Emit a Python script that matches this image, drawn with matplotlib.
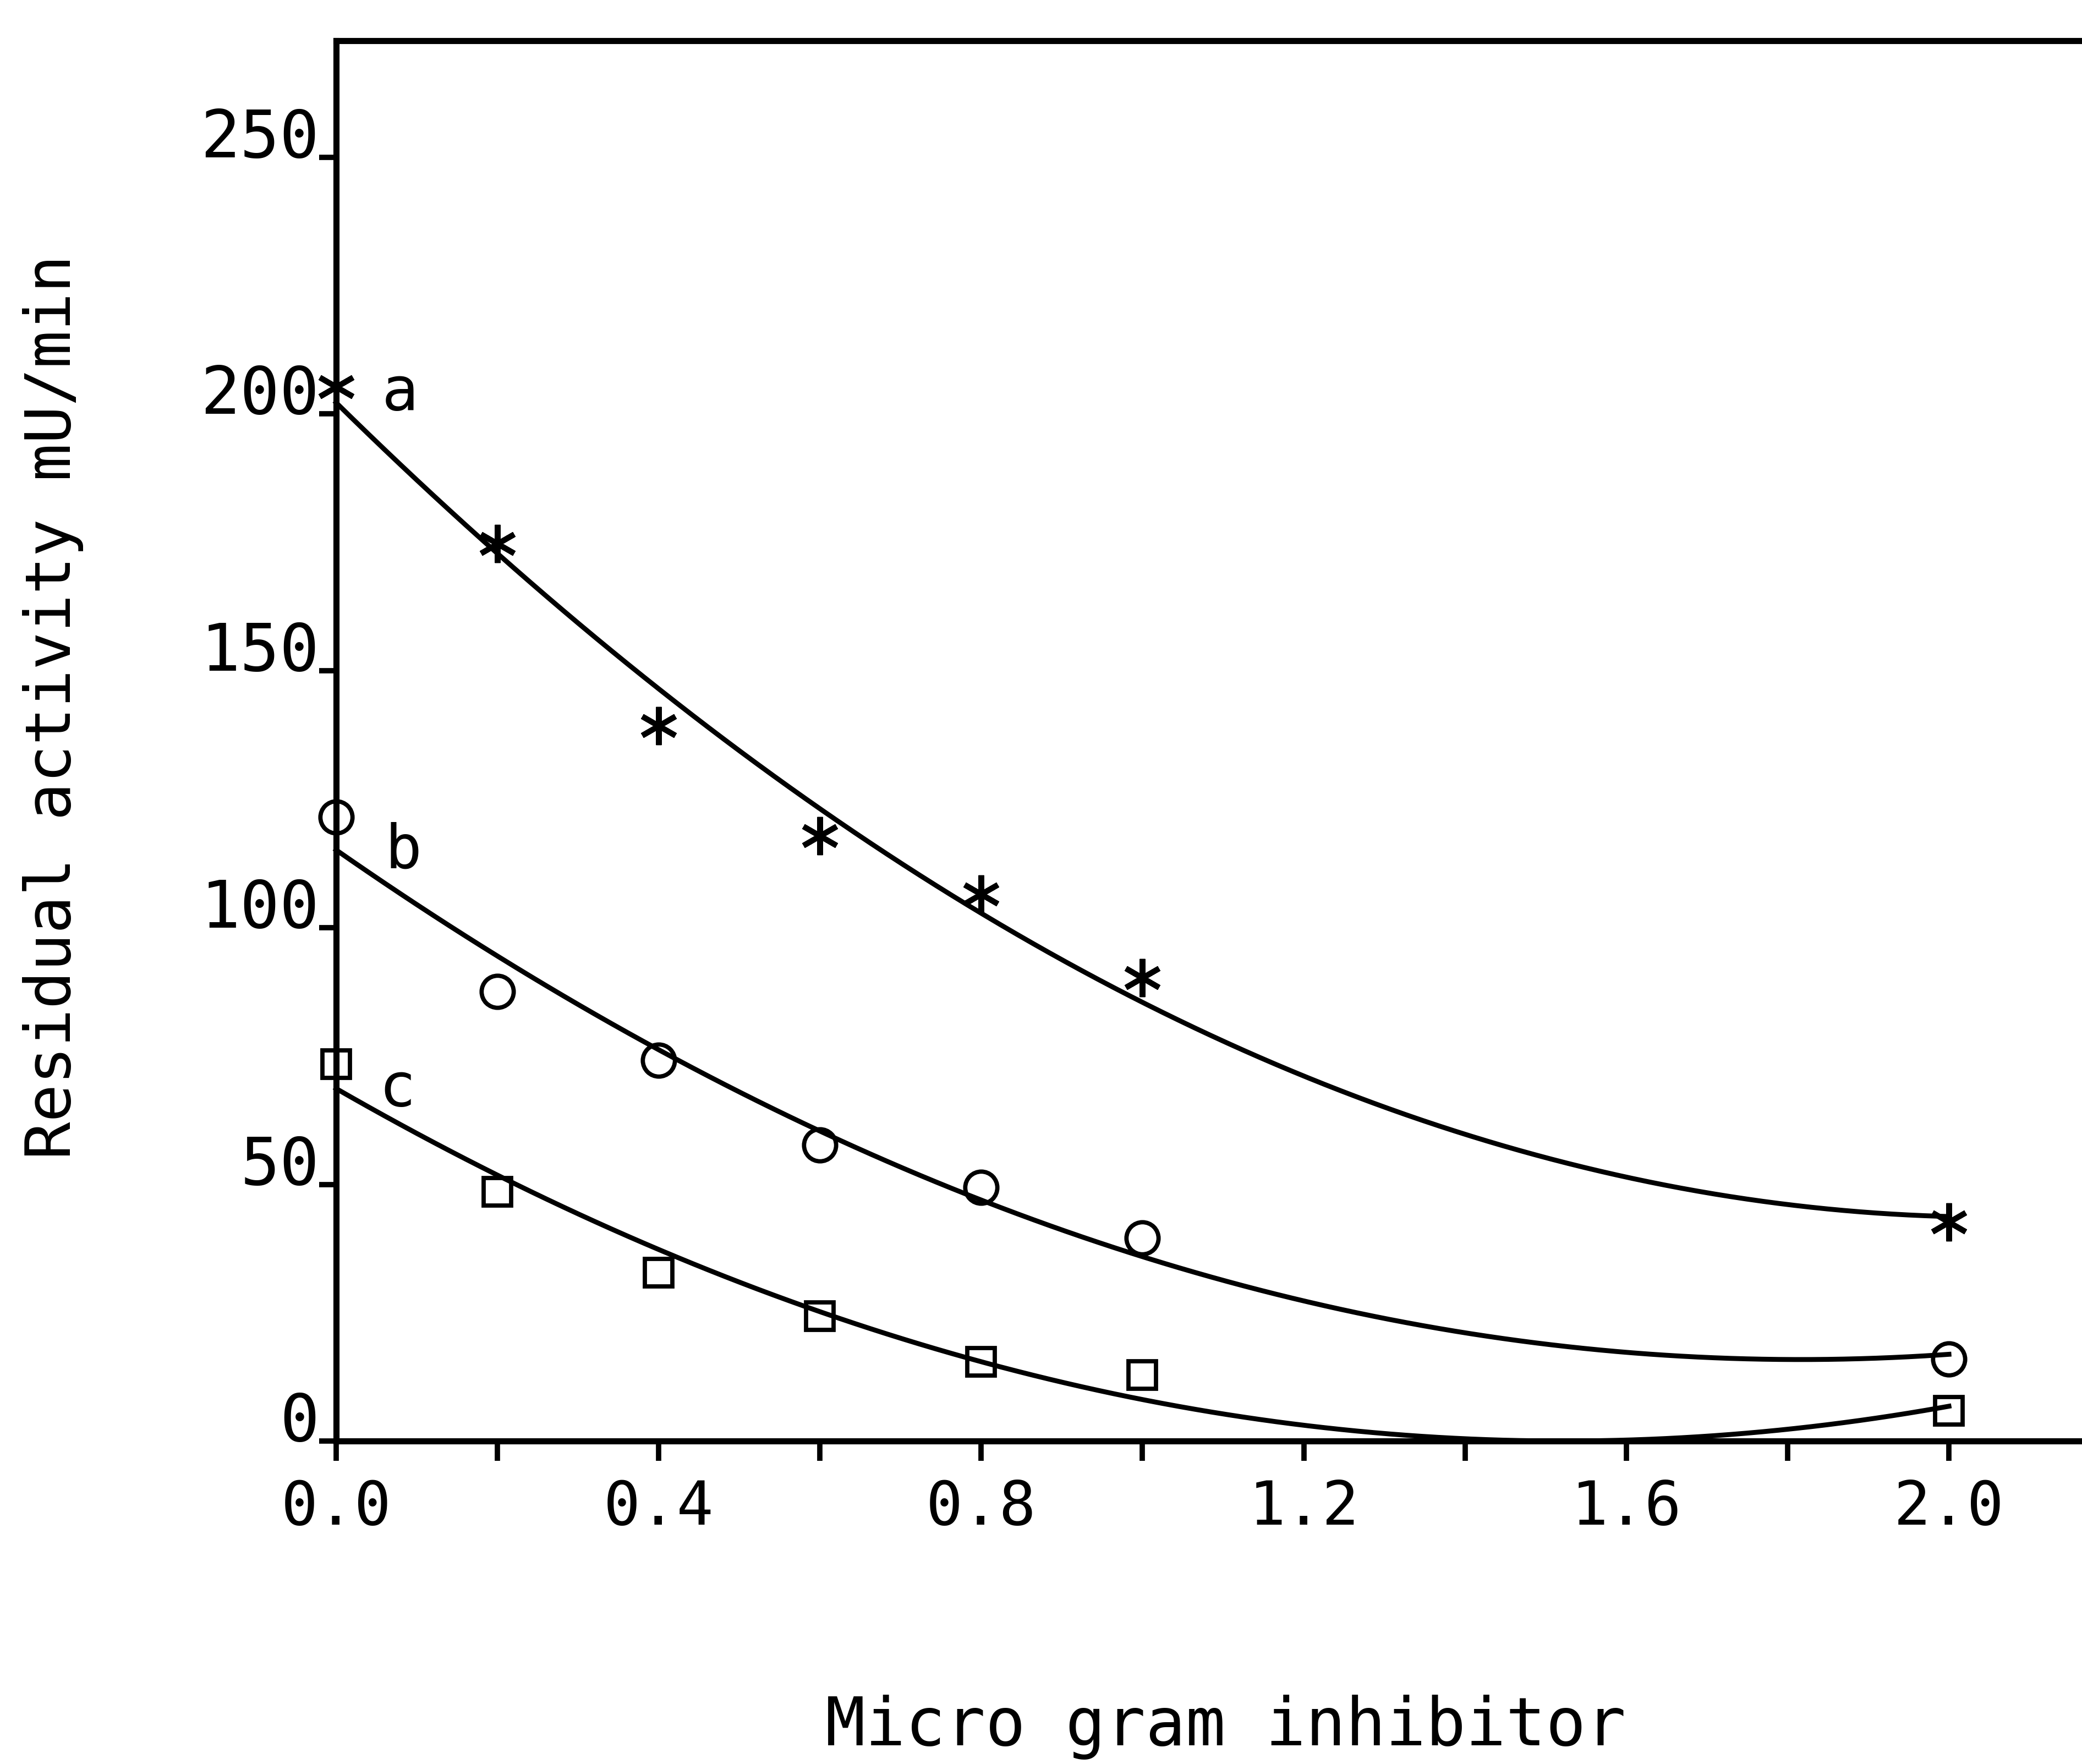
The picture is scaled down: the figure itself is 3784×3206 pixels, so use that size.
import numpy as np
import matplotlib.pyplot as plt

plt.rcParams['font.family'] = ['DejaVu Sans Mono']

# micrograms of inhibitor added
dose = [0.0, 0.2, 0.4, 0.6, 0.8, 1.0, 2.0]
# residual activity (mU/min) for the three series
activity_a = [205.3, 174.8, 139.3, 117.9, 106.5, 90.2, 42.7]
activity_b = [121.5, 87.6, 74.2, 57.7, 49.4, 39.6, 16.0]
activity_c = [73.4, 48.6, 32.8, 24.3, 15.5, 12.9, 5.9]
series_names = ['a', 'b', 'c']

x_ticks = [0.0, 0.2, 0.4, 0.6, 0.8, 1.0, 1.2, 1.4, 1.6, 1.8, 2.0]
x_tick_labels = ['0.0', '', '0.4', '', '0.8', '', '1.2', '', '1.6', '', '2.0']
y_ticks = [0, 50, 100, 150, 200, 250]
y_tick_labels = ['0', '50', '100', '150', '200', '250']

fig = plt.figure(figsize=(18.92, 16.03), dpi=200)
ax = fig.add_axes([0.1614, 0.183, 0.8386, 0.794])

markers = [(6, 2, 0), 'o', 's']
msizes = [25, 21, 18]
mews = [3.6, 2.8, 2.8]
offsets = [(30, -4), (32, -22), (28, -16)]

xs = np.linspace(min(dose), max(dose), 200)
for name, vals, m, ms, mw, off in zip(series_names, [activity_a, activity_b, activity_c],
                                      markers, msizes, mews, offsets):
    # quadratic fit through the points, as on the original plot
    coef = np.polyfit(dose, vals, 2)
    ax.plot(xs, np.polyval(coef, xs), color='black', lw=3.2, clip_on=False)
    ax.plot(dose, vals, linestyle='none', marker=m, ms=ms, mfc='none',
            mec='black', mew=mw, clip_on=False)
    ax.annotate(name, (dose[0], vals[0]), xytext=off, textcoords='offset points',
                fontsize=40, va='center', ha='left')

ax.set_xlim(0, 2.165)
ax.set_ylim(0, 272.7)

ax.spines['right'].set_visible(False)
for s in ['left', 'bottom', 'top']:
    ax.spines[s].set_linewidth(4)

ax.set_xticks(x_ticks)
ax.set_xticklabels(x_tick_labels, fontsize=40)
ax.set_yticks(y_ticks)
ax.set_yticklabels(y_tick_labels, fontsize=43)
plt.setp(ax.get_yticklabels(), va='baseline')
ax.tick_params(axis='x', direction='out', length=13, width=3.5, pad=11)
ax.tick_params(axis='y', direction='out', length=11, width=3.5, pad=0)

ax.set_xlabel("Micro gram inhibitor", fontsize=43.5)
ax.xaxis.set_label_coords(0.5095, -0.181)
ax.set_ylabel("Residual activity mU/min", fontsize=41, va='center')
ax.yaxis.set_label_coords(-0.162, 0.524)

fig.savefig("out.png", dpi=200)
